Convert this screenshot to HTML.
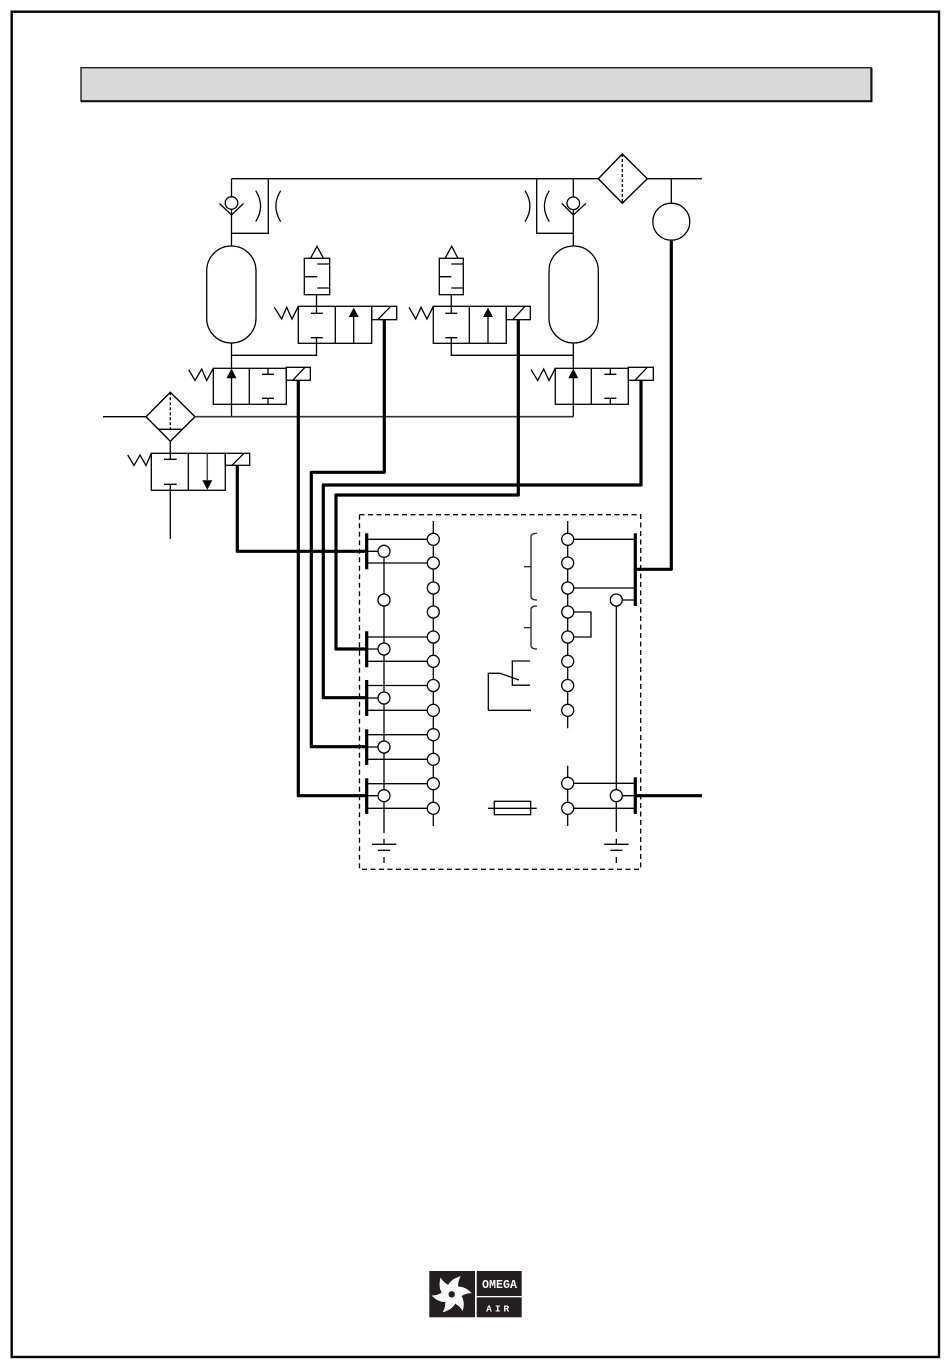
<!DOCTYPE html>
<html><head><meta charset="utf-8"><style>
html,body{margin:0;padding:0;background:#fff}svg{display:block}
</style></head><body>
<svg xmlns="http://www.w3.org/2000/svg" xmlns:xlink="http://www.w3.org/1999/xlink" width="950" height="1369" viewBox="0 0 950 1369">
<rect width="950" height="1369" fill="#fff"/>
<rect x="11.7" y="11.7" width="927.3" height="1345.3" fill="none" stroke="#000" stroke-width="2.4"/>
<rect x="81" y="67.7" width="790" height="33.3" fill="#d9d9d9" stroke="#222" stroke-width="1.4"/>
<path d="M81 101.2H871.5V67.7" fill="none" stroke="#111" stroke-width="2"/>
<g fill="none" stroke="#000" stroke-width="1.3">
<path d="M231.5 178.7H598.3M647.3 178.7H702"/>
<path d="M231.5 178.7V416.7M268.3 178.7V233.3H231.5"/>
<circle cx="231.5" cy="203" r="6.3" fill="#fff"/>
<path d="M219.5 203.5L231.5 215L243.5 203.5"/>
<path d="M255.7 190.7Q265.5 206 255.7 221.7M280.7 190.7Q271 206 280.7 221.7"/>
<rect x="206.7" y="246" width="49.3" height="97" rx="24.7" ry="24.7" fill="#fff"/>
<path d="M231.5 355.3H316.5V343M316.5 337.7V343"/>
<!-- exhaust L -->
<rect x="304.3" y="258.3" width="25.4" height="36.4"/>
<path d="M310.5 258.3L317 246.3L323.5 258.3M317.3 264H329.7M304.3 276.7H317.3M317.3 288H329.7M316.5 294.7V313.3M310.8 313.3H322.8M310.8 337.7H322.8"/>
<rect x="298.3" y="306.3" width="73.4" height="37"/><path d="M335.3 306.3V343.3M353.7 343.3V317"/>
<path d="M353.7 307.7L358.7 317H348.7Z" fill="#000" stroke="none"/>
<rect x="371.7" y="306.3" width="25" height="13.4"/><path d="M377.7 319.7L390.7 306.3"/>
<path d="M274.3 307.3L281.7 319L286.7 307.3L292 319L298.3 306.3"/>
<!-- valve lower L -->
<rect x="213.3" y="368.3" width="73" height="36"/><path d="M249.3 368.3V404.3M268 368.3V374.3M262 374.3H274M262 398.3H274M268 398.3V404.3"/>
<path d="M231.5 368.5L236.5 378.3H226.5Z" fill="#000" stroke="none"/>
<rect x="286.3" y="367.3" width="24" height="13"/><path d="M292.7 380.3L305 367.3"/>
<path d="M188.7 369.7L195 380.5L201.7 369L206.7 380.5L213.3 368.3"/>
<!-- right -->
<path d="M536.7 178.7V233.3H573.3M573.3 178.7V416.7"/>
<circle cx="573.3" cy="203.3" r="6.3" fill="#fff"/>
<path d="M561.7 203.3L573.3 215L586 203.3"/>
<path d="M525 190.7Q534.8 206 525 221.7M549.3 190.7Q539.5 206 549.3 221.7"/>
<rect x="549" y="246" width="49.3" height="97" rx="24.7" ry="24.7" fill="#fff"/>
<path d="M573.3 355.3H451.3V343"/>
<rect x="439.3" y="258.3" width="24" height="36.4"/>
<path d="M445 258.3L451.7 246.3L458 258.3M451.3 264H463.3M439.3 276.7H451.3M451.3 288H463.3M451.3 294.7V313.3M445.3 313.3H457.3M445.3 337.7H457.3M451.3 337.7V343"/>
<rect x="433.3" y="306.3" width="73" height="37"/><path d="M469.3 306.3V343.3M488 343.3V317"/>
<path d="M488 307.7L493 317H483Z" fill="#000" stroke="none"/>
<rect x="506.3" y="306.3" width="24" height="13.4"/><path d="M512.7 319.7L525 306.3"/>
<path d="M409 307.3L415.7 319L421 307.3L427 319L433.3 306.3"/>
<rect x="555.3" y="368.3" width="73" height="36"/><path d="M591.3 368.3V404.3M610.3 368.3V374.3M604.3 374.3H616.3M604.3 398.3H616.3M610.3 398.3V404.3"/>
<path d="M573.3 368.5L578.3 378.3H568.3Z" fill="#000" stroke="none"/>
<rect x="628.3" y="367.3" width="25" height="13"/><path d="M635 380.3L647.3 367.3"/>
<path d="M531 369.7L537.7 380.5L543.7 369L549 380.5L555.3 368.3"/>
<!-- top filter -->
<path d="M622.3 154L647.3 178.7L622.3 203.3L598.3 178.7Z" stroke-width="1.4"/>
<path d="M622.3 154V203.3" stroke-dasharray="3 2"/>
<path d="M671.3 178.7V203.2"/><circle cx="671.3" cy="221.7" r="18.5"/>
<!-- left filter -->
<path d="M103 416.7H146"/>
<path d="M170.3 392.3L195 416.7L170.3 441.3L146 416.7Z" stroke-width="1.4"/>
<path d="M170.3 392.3V429.3" stroke-dasharray="3 2"/><path d="M158.7 429.3H182.7M170.3 441.3V459.3M164 459.3H176.7M164 484.3H176.7M170.3 484.3V539"/>
<path d="M195 416.7H573.3" stroke="#333" stroke-width="1.6"/>
<rect x="151.3" y="453.3" width="74" height="37"/><path d="M188.3 453.3V490.3"/>
<path d="M207.3 453.3V480.3" stroke="#444" stroke-width="1.5"/>
<path d="M207.3 489.7L212.3 480.3H202.3Z" fill="#000" stroke="none"/>
<rect x="225.3" y="453.3" width="24.4" height="12"/><path d="M232 465.3L244 453.3"/>
<path d="M127.7 455L134 465.5L140 455L146 465.5L151.3 453.3"/>
<!-- dashed box -->
<rect x="359.5" y="514.7" width="281.2" height="354.6" stroke-dasharray="5 3.5"/>
<!-- columns -->
<path d="M433.3 521V826M384 551V833M567.7 521V728.3M567.7 765.7V826M616.3 600V832"/>
<!-- ground -->
<path d="M384 838.7V844.3M372 844.3H396.3M378 850.3H390M384 857V863"/>
<path d="M616.3 838.7V844.3M604.3 844.3H628.7M610.3 850.3H622.3M616.3 857V863"/>
<!-- horizontals -->
<path d="M367 539.3H433M367 563H433M367 637H433M367 661.3H433M367 685.5H433M367 710.3H433M367 734.7H433M367 759.3H433M367 783.7H433M367 808.3H433"/>
<path d="M367 551.3H384M367 649H384M367 698H384M367 747H384M367 795.7H384"/>
<path d="M567.7 539.3H635M567.7 588H635M616.3 600H635M567.7 612H591V637H567.7M567.7 783.3H635M567.7 808.3H635M616.3 795.7H635"/>
<!-- braces -->
<path d="M537 533.3Q531 533.3 531 537V596.5Q531 600 537 600M531 566.7H524" stroke="#333" stroke-width="1.4"/>
<path d="M537 606Q531 606 531 609.5V645.5Q531 649 537 649M531 627.7H524" stroke="#333" stroke-width="1.4"/>
<!-- relay -->
<path d="M530 661H512.3V685.2H530M488.3 710.3V673.3H500L519 680M488.3 710.3H531"/>
<!-- fuse -->
<rect x="494.3" y="801.3" width="36.4" height="13.4"/><path d="M488 808.3H536.7"/>
</g>
<!-- circles -->
<g fill="#fff" stroke="#000" stroke-width="1.3">
<circle cx="384" cy="551.3" r="6"/><circle cx="384" cy="600" r="6"/><circle cx="384" cy="649" r="6"/><circle cx="384" cy="698" r="6"/><circle cx="384" cy="747" r="6"/><circle cx="384" cy="795.7" r="6"/>
<circle cx="433.3" cy="539.3" r="6"/><circle cx="433.3" cy="563" r="6"/><circle cx="433.3" cy="588" r="6"/><circle cx="433.3" cy="612" r="6"/><circle cx="433.3" cy="637" r="6"/><circle cx="433.3" cy="661.3" r="6"/><circle cx="433.3" cy="685.5" r="6"/><circle cx="433.3" cy="710.3" r="6"/><circle cx="433.3" cy="734.7" r="6"/><circle cx="433.3" cy="759.3" r="6"/><circle cx="433.3" cy="783.7" r="6"/><circle cx="433.3" cy="808.3" r="6"/>
<circle cx="567.7" cy="539.3" r="6"/><circle cx="567.7" cy="563" r="6"/><circle cx="567.7" cy="588" r="6"/><circle cx="567.7" cy="612" r="6"/><circle cx="567.7" cy="637" r="6"/><circle cx="567.7" cy="661.3" r="6"/><circle cx="567.7" cy="685.5" r="6"/><circle cx="567.7" cy="710.3" r="6"/><circle cx="567.7" cy="783.3" r="6"/><circle cx="567.7" cy="808.3" r="6"/>
<circle cx="616.3" cy="600" r="6"/><circle cx="616.3" cy="795.7" r="6"/>
</g>
<!-- heavy wires -->
<g fill="none" stroke="#000" stroke-width="3.2" stroke-linejoin="round">
<path d="M237.3 465.3V551.3H366"/>
<path d="M298.3 380.3V795.7H366"/>
<path d="M384.3 319.7V472.3H311.3V746.7H366"/>
<path d="M641 380.3V485H323.3V697.7H366"/>
<path d="M518.3 319.7V495H336V649H366"/>
<path d="M671.3 240V569.3H635"/>
<path d="M635 795.7H702"/>
<path d="M366.7 533.3V569.3M366.7 631.3V667.3M366.7 680V716M366.7 729.3V765M366.7 778.3V814M635.3 533.3V606M635.3 777.3V814"/>
</g>
<!-- logo -->
<rect x="429.3" y="1271" width="45.7" height="46.3" fill="#231f20"/>
<rect x="476.7" y="1271" width="45" height="25" fill="#231f20"/>
<rect x="476.7" y="1297.3" width="45" height="20" fill="#231f20"/>
<g transform="translate(451.7 1294.3)" fill="#fff">
<g id="b"><path d="M-5 -3C-5 -11 1 -16 9 -18C6 -13 6 -8 7 -3L0 0Z"/></g>
<use xlink:href="#b" transform="rotate(60)"/><use xlink:href="#b" transform="rotate(120)"/><use xlink:href="#b" transform="rotate(180)"/><use xlink:href="#b" transform="rotate(240)"/><use xlink:href="#b" transform="rotate(300)"/>
<circle r="6"/><circle r="3.2" fill="#231f20"/>
</g>
<text x="482" y="1288" textLength="35" lengthAdjust="spacingAndGlyphs" font-family="'Liberation Mono',monospace" font-weight="700" font-size="12" fill="#fff">OMEGA</text>
<text x="499.2" y="1311.5" text-anchor="middle" font-family="'Liberation Mono',monospace" font-weight="700" font-size="9.5" letter-spacing="3" fill="#fff">AIR</text>
</svg>
</body></html>
